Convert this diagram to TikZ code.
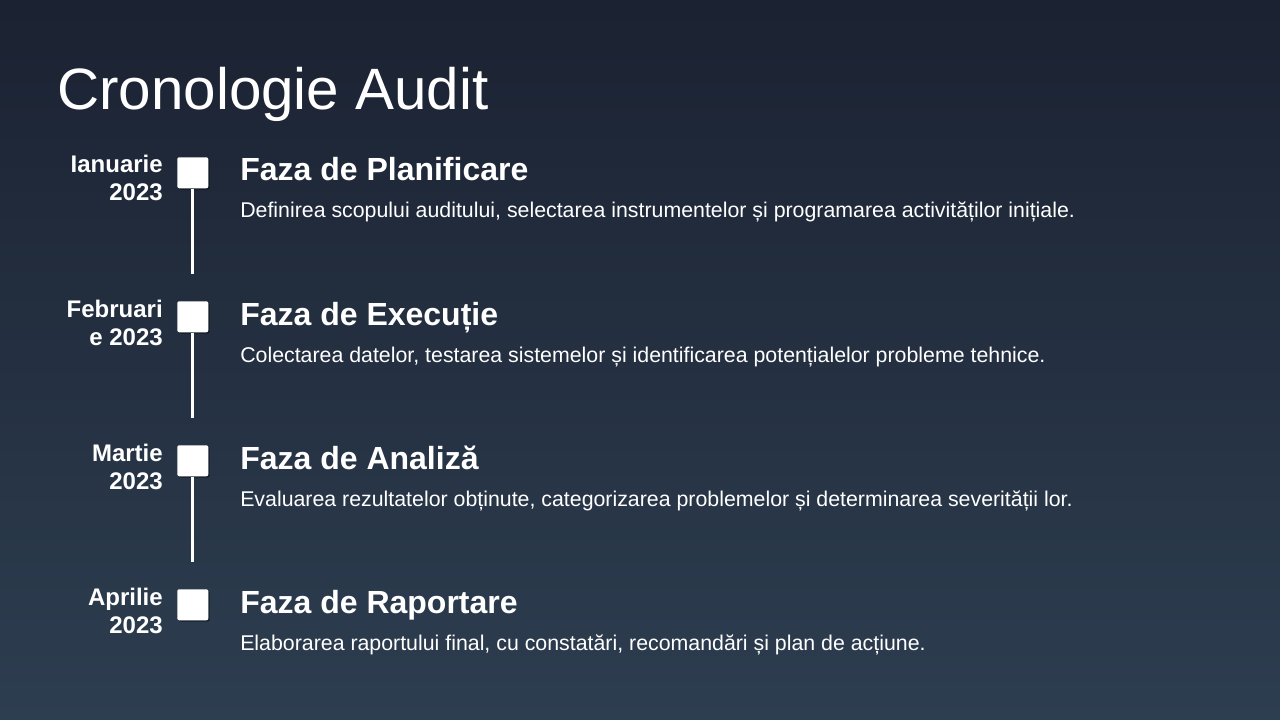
\documentclass[tikz,border=0pt]{standalone}
\usepackage{fontspec}
\setmainfont{Liberation Sans}
\definecolor{bgtop}{RGB}{27,34,50}
\definecolor{bgbot}{RGB}{45,62,80}
\definecolor{txt}{RGB}{255,255,255}
\begin{document}
\begin{tikzpicture}[x=0.75pt,y=-0.75pt,
  titletext/.style={anchor=base west,inner sep=0,text=txt,font=\fontsize{43.75}{50}\selectfont},
  headtext/.style={anchor=base west,inner sep=0,text=txt,font=\bfseries\fontsize{24}{28}\selectfont},
  desctext/.style={anchor=base west,inner sep=0,text=txt,font=\fontsize{16}{19}\selectfont},
  datetext/.style={anchor=base east,inner sep=0,align=right,text=txt,font=\bfseries\fontsize{18}{21}\selectfont},
  marker/.style={fill=white,rounded corners=1.5pt,minimum size=23.25pt,inner sep=0,anchor=north west},
  markshadow/.style={fill=black,opacity=0.3,rounded corners=1.5pt,minimum size=23.25pt,inner sep=0,anchor=north west},
  stem/.style={draw=white,line width=2.25pt}
]
\useasboundingbox (0,0) rectangle (1280,720);
\shade[top color=bgtop,bottom color=bgbot] (0,0) rectangle (1280,720);
\node[titletext] (title) at (57,110) {Cronologie Audit};

% markers
\foreach \i/\y in {1/157,2/301,3/445,4/589}{
  \node[markshadow] (s\i) at (178.5,\y+1.5) {};
  \node[marker] (m\i) at (177,\y) {};
}
\foreach \i in {1,2,3}{
  \coordinate (e\i) at ([yshift=-63.75pt]m\i.south);
  \draw[stem] (m\i.south) -- (e\i);
}

% dates
\node[datetext] (d1) at (163,201) {Ianuarie\\2023};
\node[datetext] (d2) at (163,345) {Februari\\e 2023};
\node[datetext] (d3) at (163,489) {Martie\\2023};
\node[datetext] (d4) at (163,633) {Aprilie\\2023};

% headings
\node[headtext] (h1) at (240,181) {Faza de Planificare};
\node[desctext] (t1) at (240,218) {Definirea scopului auditului, selectarea instrumentelor și programarea activităților inițiale.};
\node[headtext] (h2) at (240,325) {Faza de Execuție};
\node[desctext] (t2) at (240,362) {Colectarea datelor, testarea sistemelor și identificarea potențialelor probleme tehnice.};
\node[headtext] (h3) at (240,469) {Faza de Analiză};
\node[desctext] (t3) at (240,506) {Evaluarea rezultatelor obținute, categorizarea problemelor și determinarea severității lor.};
\node[headtext] (h4) at (240,613) {Faza de Raportare};
\node[desctext] (t4) at (240,650) {Elaborarea raportului final, cu constatări, recomandări și plan de acțiune.};
\end{tikzpicture}
\end{document}
